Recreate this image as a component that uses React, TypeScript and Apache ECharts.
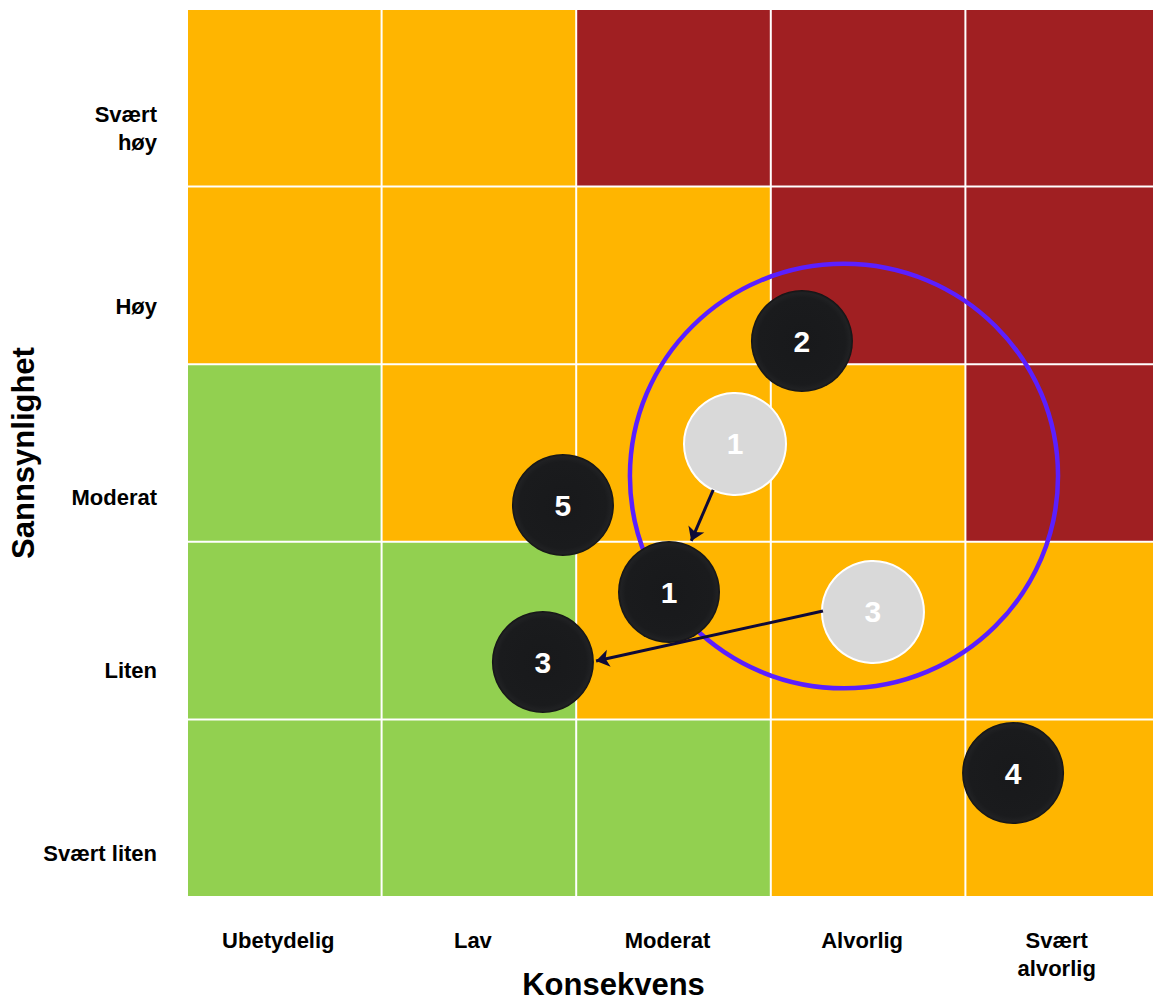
import React, { useEffect, useRef } from "react";
import * as echarts from "echarts";

// Axis categories
const consequenceLabels = ["Ubetydelig", "Lav", "Moderat", "Alvorlig", "Svært\nalvorlig"];
const probabilityLabels = ["Svært liten", "Liten", "Moderat", "Høy", "Svært\nhøy"]; // bottom -> top

// Risk level per cell: rows bottom -> top, columns left -> right (0 green, 1 orange, 2 red)
const riskRows = [
  [0, 0, 0, 1, 1],
  [0, 0, 1, 1, 1],
  [0, 1, 1, 1, 2],
  [1, 1, 1, 2, 2],
  [1, 1, 2, 2, 2],
];
const riskColors = ["#92D050", "#FFB500", "#A01F22"];

// Current risks [x, y, label]
const currentRisks: [number, number, string][] = [
  [3.16, 3.13, "2"],
  [1.932, 2.207, "5"],
  [2.477, 1.717, "1"],
  [1.829, 1.323, "3"],
  [4.245, 0.698, "4"],
];
// Previous risk positions [x, y, label]
const previousRisks: [number, number, string][] = [
  [2.816, 2.551, "1"],
  [3.525, 1.605, "3"],
];
// Movement arrows [[fromX, fromY], [toX, toY]]
const movements: [number, number][][] = [
  [[2.704, 2.292], [2.591, 2.005]],
  [[3.268, 1.61], [2.102, 1.329]],
];
// Highlight ellipse [cx, cy, rx, ry] in axis units
const highlight = [[3.376, 2.37, 1.1, 1.195]];

const FONT = "'Liberation Sans', Arial, sans-serif";

const labelStyle = {
  fontFamily: FONT,
  fontSize: 22,
  fontWeight: "bold" as const,
  color: "#000",
  lineHeight: 28,
};

// downward offset (px) of each y label below its row centre (style only)
const yLabelDrop = [45, 40, 44, 31, 31];

export default function App() {
  const ref = useRef<HTMLDivElement>(null);
  useEffect(() => {
    if (!ref.current) return;
    const chart = echarts.init(ref.current, undefined, { renderer: "svg" });
    const cellData: number[][] = [];
    riskRows.forEach((row, y) => row.forEach((lvl, x) => cellData.push([x, y, lvl])));

    const yRich: any = { n: { ...labelStyle, align: "right" } };
    yLabelDrop.forEach((d, i) => {
      yRich["s" + i] = { fontSize: 10, lineHeight: d * 2, align: "right" };
    });

    const circleLabel = {
      show: true,
      position: "inside",
      formatter: (p: any) => p.name,
      color: "#FFFFFF",
      fontFamily: FONT,
      fontSize: 30,
      fontWeight: "bold",
    };

    chart.setOption({
      animation: false,
      textStyle: { fontFamily: FONT },
      grid: { left: 187, top: 9, width: 973, height: 888, outerBoundsMode: "none", containLabel: false },
      xAxis: [
        { type: "value", min: 0, max: 5, interval: 1, show: false },
        {
          type: "category",
          data: consequenceLabels,
          position: "bottom",
          axisLine: { show: false },
          axisTick: { show: false },
          splitLine: { show: false },
          axisLabel: {
            ...labelStyle,
            verticalAlign: "top",
            margin: 29,
            formatter: (v: string) => v.split("\n").map((s) => `{x|${s}}`).join("\n"),
            rich: { x: { ...labelStyle, padding: [0, 12, 0, 0] } },
          },
          name: "Konsekvens",
          nameLocation: "middle",
          nameGap: 72,
          nameMoveOverlap: false,
          nameTextStyle: {
            fontFamily: FONT,
            fontSize: 31,
            fontWeight: "bold",
            color: "#000",
            padding: [0, 120, 0, 0],
          },
        },
      ],
      yAxis: [
        { type: "value", min: 0, max: 5, interval: 1, show: false },
        {
          type: "category",
          data: probabilityLabels,
          position: "left",
          axisLine: { show: false },
          axisTick: { show: false },
          splitLine: { show: false },
          axisLabel: {
            ...labelStyle,
            align: "right",
            margin: 30,
            formatter: (v: string, idx: number) =>
              `{s${idx}| }\n` + v.split("\n").map((s) => `{n|${s}}`).join("\n"),
            rich: yRich,
          },
          name: "Sannsynlighet",
          nameLocation: "middle",
          nameGap: 148,
          nameMoveOverlap: false,
          nameTextStyle: {
            fontFamily: FONT,
            fontSize: 31,
            fontWeight: "bold",
            color: "#000",
          },
        },
      ],
      series: [
        {
          type: "custom",
          xAxisIndex: 0,
          yAxisIndex: 0,
          data: cellData,
          silent: true,
          z: 1,
          renderItem: (params: any, api: any) => {
            const x = api.value(0);
            const y = api.value(1);
            const p0 = api.coord([x, y + 1]);
            const p1 = api.coord([x + 1, y]);
            return {
              type: "rect",
              shape: { x: p0[0] + 1, y: p0[1] + 1, width: p1[0] - p0[0] - 2, height: p1[1] - p0[1] - 2 },
              style: { fill: riskColors[api.value(2)] },
            };
          },
        },
        {
          type: "custom",
          xAxisIndex: 0,
          yAxisIndex: 0,
          data: highlight,
          silent: true,
          z: 2,
          renderItem: (params: any, api: any) => {
            const c = api.coord([api.value(0), api.value(1)]);
            const s = api.size([api.value(2), api.value(3)]);
            return {
              type: "ellipse",
              shape: { cx: c[0], cy: c[1], rx: s[0], ry: s[1] },
              style: { fill: "none", stroke: "#5B1FFF", lineWidth: 4.5 },
            };
          },
        },
        {
          type: "scatter",
          xAxisIndex: 0,
          yAxisIndex: 0,
          z: 3,
          symbol: "circle",
          symbolSize: 102,
          data: previousRisks.map((r) => ({ value: [r[0], r[1]], name: r[2] })),
          itemStyle: { color: "#D9D9D9", borderColor: "#FFFFFF", borderWidth: 2, opacity: 1 },
          label: circleLabel,
        },
        {
          type: "scatter",
          xAxisIndex: 0,
          yAxisIndex: 0,
          z: 4,
          symbol: "circle",
          symbolSize: 102,
          data: currentRisks.map((r) => ({ value: [r[0], r[1]], name: r[2] })),
          itemStyle: {
            color: {
              type: "radial",
              x: 0.5,
              y: 0.5,
              r: 0.5,
              colorStops: [
                { offset: 0, color: "#18191B" },
                { offset: 0.85, color: "#1A1B1D" },
                { offset: 0.95, color: "#202123" },
                { offset: 1, color: "#121213" },
              ],
            },
            opacity: 1,
          },
          label: circleLabel,
        },
        {
          type: "lines",
          coordinateSystem: "cartesian2d",
          xAxisIndex: 0,
          yAxisIndex: 0,
          z: 5,
          symbol: ["none", "arrow"],
          symbolSize: 13,
          lineStyle: { color: "#0F0A38", width: 3, opacity: 1 },
          data: movements.map((m) => ({ coords: m })),
        },
      ],
    });
    return () => chart.dispose();
  }, []);

  return (
    <div style={{ position: "absolute", left: 0, top: 0, width: 1153, height: 1001, overflow: "hidden", background: "#fff" }}>
      <div ref={ref} style={{ width: 1160, height: 1001 }} />
    </div>
  );
}
